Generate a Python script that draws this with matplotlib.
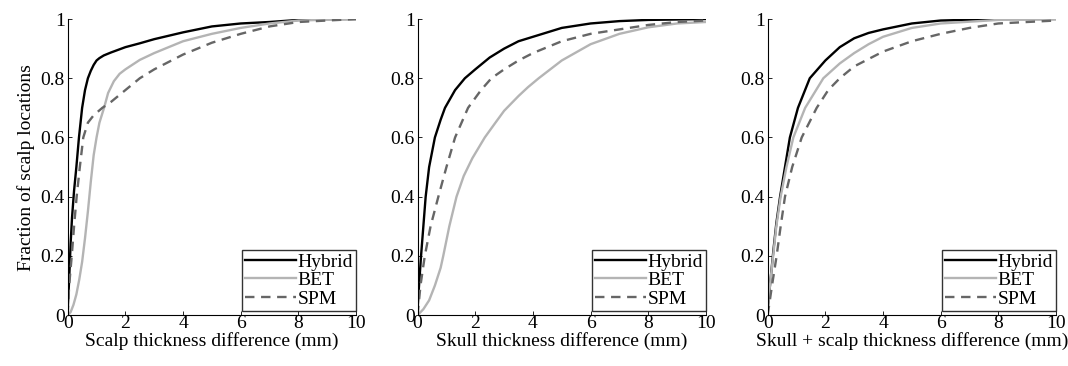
import numpy as np
import matplotlib.pyplot as plt

plt.rcParams['font.family'] = ['Liberation Serif', 'DejaVu Serif']
plt.rcParams['font.size'] = 14

# Cumulative curves: (x in mm, fraction)
# Panel 1 - scalp
scalp_hybrid_x = [0, 0.05, 0.1, 0.15, 0.22, 0.3, 0.39, 0.5, 0.6, 0.7, 0.8, 0.9, 1.0, 1.1, 1.25, 1.5, 2, 2.5, 3, 4, 5, 6, 7, 8, 9, 10]
scalp_hybrid_y = [0.02, 0.12, 0.24, 0.33, 0.42, 0.5, 0.6, 0.7, 0.76, 0.8, 0.825, 0.845, 0.86, 0.868, 0.877, 0.887, 0.905, 0.918, 0.932, 0.955, 0.975, 0.985, 0.99, 0.997, 1.0, 1.0]
scalp_bet_x = [0, 0.1, 0.2, 0.3, 0.4, 0.5, 0.6, 0.7, 0.8, 0.9, 1.0, 1.1, 1.26, 1.4, 1.6, 1.8, 2, 2.5, 3, 4, 5, 6, 7, 8, 10]
scalp_bet_y = [0.0, 0.01, 0.035, 0.07, 0.12, 0.18, 0.26, 0.35, 0.45, 0.54, 0.6, 0.65, 0.7, 0.75, 0.79, 0.815, 0.83, 0.862, 0.885, 0.925, 0.95, 0.97, 0.985, 0.995, 1.0]
scalp_spm_x = [0, 0.05, 0.14, 0.22, 0.31, 0.42, 0.54, 0.7, 0.9, 1.2, 1.5, 2, 2.5, 3, 4, 5, 6, 7, 8, 10]
scalp_spm_y = [0.0, 0.1, 0.2, 0.3, 0.4, 0.5, 0.6, 0.65, 0.675, 0.7, 0.72, 0.76, 0.8, 0.83, 0.88, 0.92, 0.95, 0.975, 0.99, 1.0]

# Panel 2 - skull
skull_hybrid_x = [0, 0.05, 0.12, 0.2, 0.28, 0.4, 0.6, 0.8, 0.95, 1.3, 1.64, 2, 2.5, 3, 3.5, 4, 5, 6, 7, 8, 10]
skull_hybrid_y = [0.02, 0.1, 0.2, 0.3, 0.4, 0.5, 0.6, 0.66, 0.7, 0.76, 0.8, 0.83, 0.87, 0.9, 0.925, 0.94, 0.97, 0.985, 0.993, 0.997, 1.0]
skull_bet_x = [0, 0.2, 0.4, 0.6, 0.8, 0.89, 1.1, 1.35, 1.6, 1.9, 2.33, 2.7, 3, 3.5, 3.83, 4.2, 5, 6, 7, 8, 9, 10]
skull_bet_y = [0.0, 0.02, 0.05, 0.1, 0.16, 0.2, 0.3, 0.4, 0.47, 0.53, 0.6, 0.65, 0.69, 0.74, 0.77, 0.8, 0.86, 0.915, 0.95, 0.972, 0.985, 0.99]
skull_spm_x = [0, 0.1, 0.25, 0.45, 0.72, 1.0, 1.3, 1.75, 2.2, 2.56, 3, 3.5, 4, 5, 6, 7, 8, 9, 10]
skull_spm_y = [0.0, 0.1, 0.2, 0.3, 0.4, 0.5, 0.6, 0.7, 0.76, 0.8, 0.83, 0.86, 0.885, 0.925, 0.95, 0.965, 0.98, 0.99, 0.995]

# Panel 3 - skull + scalp
both_hybrid_x = [0, 0.1, 0.2, 0.3, 0.43, 0.6, 0.77, 1.05, 1.46, 2, 2.5, 3, 3.5, 4, 5, 6, 8, 10]
both_hybrid_y = [0.02, 0.12, 0.22, 0.31, 0.4, 0.5, 0.6, 0.7, 0.8, 0.86, 0.905, 0.935, 0.953, 0.965, 0.985, 0.995, 1.0, 1.0]
both_bet_x = [0, 0.1, 0.2, 0.3, 0.45, 0.65, 0.89, 1.3, 1.93, 2.5, 3, 3.5, 4, 5, 6, 8, 10]
both_bet_y = [0.02, 0.12, 0.21, 0.3, 0.4, 0.5, 0.6, 0.7, 0.8, 0.85, 0.885, 0.915, 0.94, 0.97, 0.985, 0.997, 1.0]
both_spm_x = [0, 0.15, 0.31, 0.45, 0.6, 0.85, 1.18, 1.7, 2.1, 2.5, 3, 4, 5, 6, 7, 8, 10]
both_spm_y = [0.0, 0.1, 0.2, 0.3, 0.4, 0.5, 0.6, 0.7, 0.76, 0.8, 0.84, 0.89, 0.925, 0.95, 0.97, 0.985, 0.995]

panels = [
    ('Scalp thickness difference (mm)',
     (scalp_hybrid_x, scalp_hybrid_y), (scalp_bet_x, scalp_bet_y), (scalp_spm_x, scalp_spm_y)),
    ('Skull thickness difference (mm)',
     (skull_hybrid_x, skull_hybrid_y), (skull_bet_x, skull_bet_y), (skull_spm_x, skull_spm_y)),
    ('Skull + scalp thickness difference (mm)',
     (both_hybrid_x, both_hybrid_y), (both_bet_x, both_bet_y), (both_spm_x, both_spm_y)),
]

xticks = [0, 2, 4, 6, 8, 10]
yticks = [0, 0.2, 0.4, 0.6, 0.8, 1]
ytick_labels = ['0', '0.2', '0.4', '0.6', '0.8', '1']

fig = plt.figure(figsize=(10.68, 3.66), dpi=100)
lefts = [0.0634, 0.391, 0.7188]

for i, (xlabel, hyb, bet, spm) in enumerate(panels):
    ax = fig.add_axes([lefts[i], 0.139, 0.27, 0.809])
    ax.plot(hyb[0], hyb[1], color='black', lw=1.7, label='Hybrid')
    ax.plot(bet[0], bet[1], color='#b4b4b4', lw=1.7, label='BET')
    ax.plot(spm[0], spm[1], color='#666666', lw=1.7, ls=(0, (4, 2.8)), label='SPM')
    ax.set_xlim(0, 10)
    ax.set_ylim(0, 1)
    ax.set_xticks(xticks)
    ax.set_yticks(yticks)
    ax.set_yticklabels(ytick_labels)
    ax.spines['top'].set_visible(False)
    ax.spines['right'].set_visible(False)
    ax.tick_params(direction='in', length=3, width=0.6, labelsize=14)
    ax.tick_params(axis='x', pad=0)
    ax.tick_params(axis='y', pad=2)
    ax.set_xlabel(xlabel, fontsize=14, labelpad=0)
    if i == 0:
        ax.set_ylabel('Fraction of scalp locations', fontsize=14, labelpad=4)
    leg = ax.legend(loc='lower right', bbox_to_anchor=(1.0, 0.015), fontsize=14,
                    frameon=True, fancybox=False, edgecolor='black',
                    handlelength=2.6, handletextpad=0.1, borderpad=0.15,
                    labelspacing=0.05, borderaxespad=0.0)
    leg.get_frame().set_linewidth(1.0)

fig.savefig('out.png', dpi=100)
